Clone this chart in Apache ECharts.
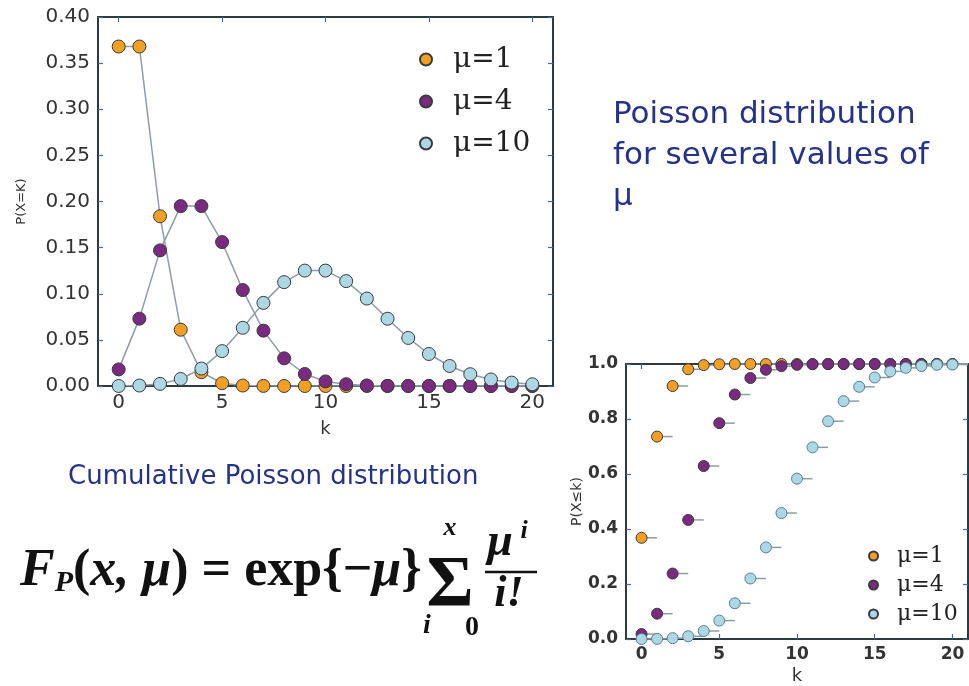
<!DOCTYPE html>
<html>
<head>
<meta charset="utf-8">
<script src="https://cdn.jsdelivr.net/npm/echarts@6/dist/echarts.min.js"></script>
<style>
html,body{margin:0;padding:0;background:#fff;}
#chart{width:969px;height:686px;}
</style>
</head>
<body>
<div id="chart"></div>
<script>
// ---- data ----
const kValues = [0,1,2,3,4,5,6,7,8,9,10,11,12,13,14,15,16,17,18,19,20];
const seriesNames = ['μ=1', 'μ=4', 'μ=10'];
const pmfMu1  = [0.368,0.368,0.184,0.061,0.015,0.003,0.0005,0.0001,0,0,0,0,0,0,0,0,0,0,0,0,0];
const pmfMu4  = [0.018,0.073,0.147,0.195,0.195,0.156,0.104,0.060,0.030,0.013,0.005,0.002,0.0006,0.0002,0.0001,0,0,0,0,0,0];
const pmfMu10 = [0.0000,0.0005,0.0023,0.0076,0.0189,0.0378,0.0631,0.0901,0.1126,0.1251,0.1251,0.1137,0.0948,0.0729,0.0521,0.0347,0.0217,0.0128,0.0071,0.0037,0.0019];
const cdfMu1  = [0.368,0.736,0.920,0.981,0.996,0.999,1.0,1.0,1.0,1.0,1.0,1.0,1.0,1.0,1.0,1.0,1.0,1.0,1.0,1.0,1.0];
const cdfMu4  = [0.018,0.092,0.238,0.433,0.629,0.785,0.889,0.949,0.979,0.992,0.997,0.999,1.0,1.0,1.0,1.0,1.0,1.0,1.0,1.0,1.0];
const cdfMu10 = [0.000,0.0005,0.003,0.010,0.029,0.067,0.130,0.220,0.333,0.458,0.583,0.697,0.792,0.865,0.917,0.951,0.973,0.986,0.993,0.997,0.998];
const xTickLabels = [0,5,10,15,20];
const pmfYTicks = { min: 0, max: 0.4, step: 0.05 };
const cdfYTicks = { min: 0, max: 1.0, step: 0.2 };

// ---- styles ----
const colors = ['#f2a024', '#7a2a80', '#acd8e6'];
const lineGray = '#8c9ca8';
const frameColor = '#2c3a44';
const tickColor = '#4d6a80';

const chart = echarts.init(document.getElementById('chart'), null, {renderer: 'canvas'});

function pairs(vals) { return kValues.map((k, i) => [k, vals[i]]); }

function xAxisDef(gridIndex, position, showLabels, fontSize, bold, name, nameGap) {
  return {
    type: 'value', gridIndex, position, min: -1, max: 21,
    splitLine: {show: false},
    axisLine: {show: true, onZero: false, lineStyle: {color: frameColor, width: 2}},
    axisTick: {show: true, inside: true, length: 5, customValues: xTickLabels, lineStyle: {color: tickColor, width: 1.2}},
    axisLabel: {show: showLabels, customValues: xTickLabels, fontSize, fontFamily: 'DejaVu Sans', fontWeight: bold ? 'bold' : 'normal', color: '#333', margin: 7},
    name: showLabels ? name : '', nameLocation: 'middle', nameGap,
    nameTextStyle: {fontSize: 18, fontFamily: 'DejaVu Sans', color: '#333'}
  };
}
function yAxisDef(gridIndex, position, showLabels, t, digits, fontSize, bold, name, nameGap, nameSize) {
  return {
    type: 'value', gridIndex, position, min: t.min, max: t.max, interval: t.step,
    splitLine: {show: false},
    axisLine: {show: true, onZero: false, lineStyle: {color: frameColor, width: 2}},
    axisTick: {show: true, inside: true, length: 5, lineStyle: {color: tickColor, width: 1.2}},
    axisLabel: {show: showLabels, fontSize, fontFamily: 'DejaVu Sans', fontWeight: bold ? 'bold' : 'normal', color: '#333', margin: 8,
      formatter: v => v.toFixed(digits)},
    name: showLabels ? name : '', nameLocation: 'middle', nameGap,
    nameTextStyle: {fontSize: nameSize, fontFamily: 'DejaVu Sans', color: '#333'}
  };
}

const pmfSets = [pmfMu1, pmfMu4, pmfMu10];
const cdfSets = [cdfMu1, cdfMu4, cdfMu10];

const series = [];
pmfSets.forEach((vals, i) => {
  series.push({
    name: seriesNames[i], type: 'line', xAxisIndex: 0, yAxisIndex: 0,
    data: pairs(vals), symbol: 'circle', symbolSize: 13, showSymbol: true,
    lineStyle: {color: lineGray, width: 1.5},
    itemStyle: {color: colors[i], borderColor: '#3a3a3a', borderWidth: 1},
    z: 2 + i
  });
});
cdfSets.forEach((vals, i) => {
  series.push({
    name: 'step ' + seriesNames[i], type: 'custom', xAxisIndex: 2, yAxisIndex: 2,
    data: pairs(vals), z: 2 + i,
    renderItem: function (params, api) {
      const k = api.value(0), v = api.value(1);
      const p0 = api.coord([k, v]);
      const p1 = api.coord([k + 1, v]);
      return {type: 'line', shape: {x1: p0[0], y1: p0[1], x2: p1[0], y2: p1[1]},
        style: {stroke: lineGray, lineWidth: 1.5}};
    }
  });
  series.push({
    name: seriesNames[i], type: 'scatter', xAxisIndex: 2, yAxisIndex: 2,
    data: pairs(vals), symbol: 'circle', symbolSize: 11,
    itemStyle: {color: colors[i], borderColor: i === 2 ? '#5a7d90' : '#3a3a3a', borderWidth: 1, opacity: 1},
    z: 2 + i
  });
});

const serif = 'Liberation Serif';
const legendSerif = 'DejaVu Serif';
const blueText = '#24328a';

const option = {
  animation: false,
  backgroundColor: '#fff',
  grid: [
    {left: 98, top: 17, width: 455, height: 369, containLabel: false},
    {left: 626, top: 364, width: 342, height: 275, containLabel: false}
  ],
  xAxis: [
    xAxisDef(0, 'bottom', true, 20, false, 'k', 34),
    xAxisDef(0, 'top', false, 20, false, '', 0),
    xAxisDef(1, 'bottom', true, 17, true, 'k', 28),
    xAxisDef(1, 'top', false, 17, true, '', 0)
  ],
  yAxis: [
    yAxisDef(0, 'left', true, pmfYTicks, 2, 20, false, 'P(X=K)', 70, 13),
    yAxisDef(0, 'right', false, pmfYTicks, 2, 20, false, '', 0, 13),
    yAxisDef(1, 'left', true, cdfYTicks, 1, 17, true, 'P(X≤k)', 38, 14),
    yAxisDef(1, 'right', false, cdfYTicks, 1, 17, true, '', 0, 14)
  ],
  legend: [
    {
      data: seriesNames, orient: 'vertical', left: 414, top: 39,
      icon: 'circle', itemWidth: 12, itemHeight: 12, itemGap: 11,
      selectedMode: false,
      textStyle: {fontFamily: legendSerif, fontSize: 28, color: '#222', lineHeight: 31, padding: [0, 0, 0, 16]}
    },
    {
      data: seriesNames, orient: 'vertical', left: 863, top: 539,
      icon: 'circle', itemWidth: 9, itemHeight: 9, itemGap: 5,
      selectedMode: false,
      textStyle: {fontFamily: legendSerif, fontSize: 22, color: '#222', lineHeight: 24, padding: [0, 0, 0, 14]}
    }
  ],
  series,
  graphic: [
    {type: 'text', x: 613, y: 94, style: {
      text: 'Poisson distribution\nfor several values of\nμ',
      font: '31px "DejaVu Sans"', fill: blueText, lineHeight: 41,
      align: 'left', verticalAlign: 'top', textAlign: 'left', textVerticalAlign: 'top'}},
    {type: 'text', x: 68, y: 477, style: {
      text: 'Cumulative Poisson distribution',
      font: '26px "DejaVu Sans"', fill: blueText,
      align: 'left', verticalAlign: 'middle', textAlign: 'left', textVerticalAlign: 'middle'}},
    // formula
    {type: 'text', x: 20, y: 572, style: {
      text: '{F|F}{s|P}{n|(}{i|x, μ}{n|) = exp{−}{i|μ}}',
      fontFamily: serif, fontSize: 52, fontWeight: 'bold', fill: '#111',
      align: 'left', verticalAlign: 'middle', textAlign: 'left', textVerticalAlign: 'middle',
      rich: {
        F: {fontFamily: serif, fontSize: 52, fontStyle: 'italic', fontWeight: 'bold', fill: '#111', color: '#111', verticalAlign: 'middle'},
        s: {fontFamily: serif, fontSize: 30, fontStyle: 'italic', fontWeight: 'bold', fill: '#111', color: '#111', verticalAlign: 'bottom'},
        n: {fontFamily: serif, fontSize: 52, fontWeight: 'bold', fill: '#111', color: '#111', verticalAlign: 'middle'},
        i: {fontFamily: serif, fontSize: 52, fontStyle: 'italic', fontWeight: 'bold', fill: '#111', color: '#111', verticalAlign: 'middle'}
      }}},
    {type: 'text', x: 450, y: 586, style: {text: 'Σ', font: 'bold 72px "Liberation Serif"', fill: '#111',
      align: 'center', verticalAlign: 'middle', textAlign: 'center', textVerticalAlign: 'middle'}},
    {type: 'text', x: 450, y: 528, style: {text: 'x', font: 'italic bold 26px "Liberation Serif"', fill: '#111',
      align: 'center', verticalAlign: 'middle', textAlign: 'center', textVerticalAlign: 'middle'}},
    {type: 'text', x: 427, y: 626, style: {text: 'i', font: 'italic bold 28px "Liberation Serif"', fill: '#111',
      align: 'center', verticalAlign: 'middle', textAlign: 'center', textVerticalAlign: 'middle'}},
    {type: 'text', x: 472, y: 628, style: {text: '0', font: 'bold 28px "Liberation Serif"', fill: '#111',
      align: 'center', verticalAlign: 'middle', textAlign: 'center', textVerticalAlign: 'middle'}},
    {type: 'text', x: 500, y: 543, style: {text: 'μ', font: 'italic bold 46px "Liberation Serif"', fill: '#111',
      align: 'center', verticalAlign: 'middle', textAlign: 'center', textVerticalAlign: 'middle'}},
    {type: 'text', x: 524, y: 531, style: {text: 'i', font: 'italic bold 26px "Liberation Serif"', fill: '#111',
      align: 'center', verticalAlign: 'middle', textAlign: 'center', textVerticalAlign: 'middle'}},
    {type: 'line', shape: {x1: 485, y1: 572, x2: 537, y2: 572}, style: {stroke: '#111', lineWidth: 2.5}},
    {type: 'text', x: 509, y: 595, style: {text: 'i!', font: 'italic bold 44px "Liberation Serif"', fill: '#111',
      align: 'center', verticalAlign: 'middle', textAlign: 'center', textVerticalAlign: 'middle'}}
  ]
};
chart.setOption(option);
</script>
</body>
</html>
